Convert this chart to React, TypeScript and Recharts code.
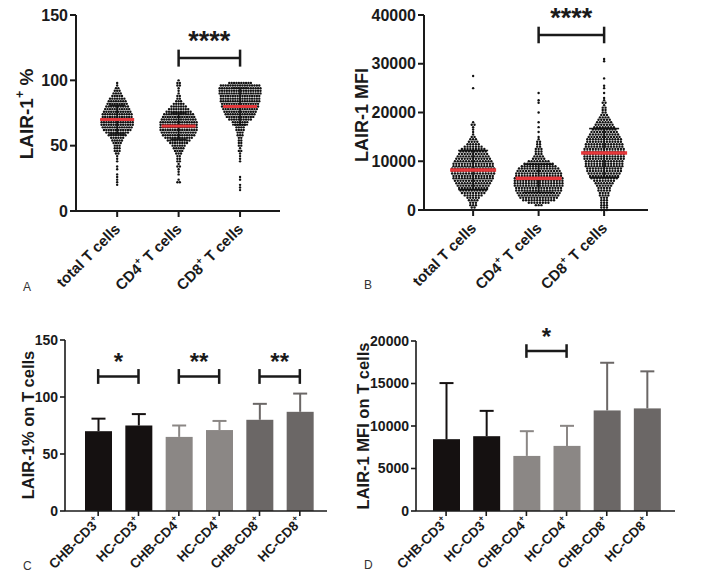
import React from 'react';
import {
  ScatterChart,
  Scatter,
  BarChart,
  Bar,
  XAxis,
  YAxis,
  ErrorBar,
  ReferenceLine,
} from 'recharts';

const FONT = '"Liberation Sans", Arial, sans-serif';
const INK = '#1a1a1a';

// ---- panel A / B: per-cell scatter, read as counts per value bin ----
const cellGroups = ['total T cells', 'CD4⁺ T cells', 'CD8⁺ T cells'];

const pctBins = [
  16, 18, 20, 22, 24, 26, 28, 30, 32, 34, 36, 38, 40, 42, 44, 46, 48, 50, 52, 54, 56, 58,
  60, 62, 64, 66, 68, 70, 72, 74, 76, 78, 80, 82, 84, 86, 88, 90, 92, 94, 96, 98, 100,
];
const pctTotalCounts = [
  0, 0, 1, 1, 1, 1, 1, 0, 1, 1, 0, 1, 1, 1, 2, 3, 3, 3, 4, 5, 6, 8,
  10, 12, 13, 14, 14, 14, 13, 13, 12, 11, 10, 9, 8, 7, 5, 4, 3, 2, 1, 1, 0,
];
const pctCd4Counts = [
  0, 0, 0, 2, 1, 0, 1, 1, 1, 2, 1, 2, 2, 2, 3, 4, 5, 6, 8, 10, 12, 14,
  15, 16, 16, 16, 16, 15, 14, 13, 11, 9, 7, 5, 3, 2, 2, 1, 1, 1, 2, 2, 1,
];
const pctCd8Counts = [
  1, 1, 1, 0, 1, 1, 0, 0, 0, 0, 0, 1, 1, 1, 1, 2, 1, 2, 2, 2, 2, 3,
  3, 4, 4, 5, 7, 10, 12, 13, 14, 15, 16, 16, 17, 17, 17, 18, 18, 18, 17, 10, 0,
];
const pctMeans = [70, 65, 80];
const pctSd = [11, 10, 14];

const mfiBins = [
  0, 500, 1000, 1500, 2000, 2500, 3000, 3500, 4000, 4500,
  5000, 5500, 6000, 6500, 7000, 7500, 8000, 8500, 9000, 9500,
  10000, 10500, 11000, 11500, 12000, 12500, 13000, 13500, 14000, 14500,
  15000, 15500, 16000, 16500, 17000, 17500, 18000, 18500, 19000, 19500,
  20000, 20500, 21000, 21500, 22000, 22500, 23000, 23500, 24000, 24500,
  25000, 25500, 26000, 26500, 27000, 27500, 28000, 28500, 29000, 29500,
  30000, 30500, 31000,
];
const mfiTotalCounts = [
  0, 2, 3, 3, 4, 5, 7, 9, 10, 11,
  12, 13, 14, 15, 15, 16, 16, 16, 15, 15,
  14, 13, 12, 11, 10, 9, 7, 5, 4, 3,
  2, 1, 1, 1, 1, 2, 1, 0, 0, 0,
  0, 0, 0, 0, 0, 0, 0, 0, 0, 0,
  1, 0, 0, 0, 0, 1, 0, 0, 0, 0,
  0, 0, 0,
];
const mfiCd4Counts = [
  0, 0, 3, 8, 12, 14, 15, 16, 17, 17,
  18, 18, 18, 18, 17, 17, 16, 15, 13, 11,
  8, 5, 4, 3, 3, 3, 2, 2, 2, 1,
  1, 0, 1, 0, 1, 0, 1, 0, 0, 0,
  1, 0, 0, 0, 1, 1, 0, 0, 1, 0,
  0, 0, 0, 0, 0, 0, 0, 0, 0, 0,
  0, 0, 0,
];
const mfiCd8Counts = [
  3, 3, 3, 3, 3, 3, 4, 4, 5, 5,
  6, 7, 8, 10, 11, 12, 13, 13, 14, 14,
  14, 15, 15, 15, 15, 15, 14, 14, 13, 13,
  12, 11, 10, 9, 8, 7, 6, 5, 4, 3,
  2, 2, 2, 1, 2, 1, 1, 0, 1, 0,
  1, 1, 0, 0, 1, 0, 0, 0, 0, 0,
  0, 1, 1,
];
const mfiMeans = [8200, 6500, 11700];
const mfiSd = [4000, 2900, 5000];

// ---- panel C / D: group bars ----
const barLabels = ['CHB-CD3⁺', 'HC-CD3⁺', 'CHB-CD4⁺', 'HC-CD4⁺', 'CHB-CD8⁺', 'HC-CD8⁺'];
const pctBarMeans = [70, 75, 65, 71, 80, 87];
const pctBarSd = [11, 10, 10, 8, 14, 16];
const mfiBarMeans = [8450, 8800, 6480, 7660, 11830, 12070];
const mfiBarSd = [6600, 2980, 2910, 2360, 5610, 4360];
const barColors = ['#151111', '#151111', '#8b8785', '#8b8785', '#6b6766', '#6b6766'];

// significance brackets
const pctScatterBrackets = [{ from: 2, to: 3, y: 117, label: '****' }];
const mfiScatterBrackets = [{ from: 2, to: 3, y: 35900, label: '****' }];
const pctBarBrackets = [
  { from: 'CHB-CD3⁺', to: 'HC-CD3⁺', y: 118, label: '*' },
  { from: 'CHB-CD4⁺', to: 'HC-CD4⁺', y: 118, label: '**' },
  { from: 'CHB-CD8⁺', to: 'HC-CD8⁺', y: 118, label: '**' },
];
const mfiBarBrackets = [{ from: 'CHB-CD4⁺', to: 'HC-CD4⁺', y: 18820, label: '*' }];

function swarm(bins: number[], counts: number[], group: number) {
  const pts: { x: number; y: number; off: number }[] = [];
  bins.forEach((b, i) => {
    const n = counts[i];
    for (let k = 0; k < n; k++) pts.push({ x: group, y: b, off: k - (n - 1) / 2 });
  });
  return pts;
}

const stats = (means: number[], sds: number[]) =>
  means.map((m, i) => ({ x: i + 1, y: m, sd: sds[i] }));

const supText = (s: string, size: number) => {
  const parts = s.split('⁺');
  if (parts.length === 1) return s;
  const lift = size * 0.45;
  return [
    <tspan key="a">{parts[0]}</tspan>,
    <tspan key="b" dy={-lift} fontSize={size * 0.65}>+</tspan>,
    <tspan key="c" dy={lift}>{parts[1]}</tspan>,
  ];
};

const rotatedTick = (fontSize: number, dx: number, dy: number) => (props: any) => {
  const { x, y, payload } = props;
  const v = payload.value;
  const label = typeof v === 'number' ? cellGroups[v - 1] : v;
  const ax = x + dx;
  const ay = y + dy;
  return (
    <text
      x={ax}
      y={ay}
      transform={`rotate(-45 ${ax} ${ay})`}
      textAnchor="end"
      fontSize={fontSize}
      fontWeight="bold"
      fontFamily={FONT}
      fill={INK}
    >
      {supText(label, fontSize)}
    </text>
  );
};

const dot = (spacing: number) => (props: any) => {
  const off = props.payload?.off ?? 0;
  return <circle cx={props.cx + off * spacing} cy={props.cy} r={1.2} fill="#111" />;
};

const meanLine = (w: number, h: number) => (props: any) => (
  <rect x={props.cx - w / 2} y={props.cy - h / 2} width={w} height={h} fill="#e5383b" />
);

const hidden = () => <g />;

const barShape = (capHalf: number) => (props: any) => {
  const { x, y, width, height, index, payload } = props;
  const color = barColors[index];
  const perUnit = height / payload.value;
  const top = y - payload.sd * perUnit;
  const cx = x + width / 2;
  return (
    <g>
      <rect x={x} y={y} width={width} height={height} fill={color} />
      <line x1={cx} y1={y} x2={cx} y2={top} stroke={color} strokeWidth={2} />
      <line x1={cx - capHalf} y1={top} x2={cx + capHalf} y2={top} stroke={color} strokeWidth={2} />
    </g>
  );
};

function bracket(b: any, key: string, half: number, fontSize: number, sw: number, lift: number) {
  return [
    <ReferenceLine
      key={key + 'h'}
      segment={[{ x: b.from, y: b.y }, { x: b.to, y: b.y }]}
      stroke={INK}
      strokeWidth={sw}
      label={{ value: b.label, position: 'top', offset: lift, fontSize, fontWeight: 'bold', fill: INK, fontFamily: FONT }}
    />,
    <ReferenceLine
      key={key + 'l'}
      segment={[{ x: b.from, y: b.y + half }, { x: b.from, y: b.y - half }]}
      stroke={INK}
      strokeWidth={sw}
    />,
    <ReferenceLine
      key={key + 'r'}
      segment={[{ x: b.to, y: b.y + half }, { x: b.to, y: b.y - half }]}
      stroke={INK}
      strokeWidth={sw}
    />,
  ];
}

const pctPts = [
  swarm(pctBins, pctTotalCounts, 1),
  swarm(pctBins, pctCd4Counts, 2),
  swarm(pctBins, pctCd8Counts, 3),
];
const mfiPts = [
  swarm(mfiBins, mfiTotalCounts, 1),
  swarm(mfiBins, mfiCd4Counts, 2),
  swarm(mfiBins, mfiCd8Counts, 3),
];
const pctBarRows = barLabels.map((name, i) => ({ name, value: pctBarMeans[i], sd: pctBarSd[i] }));
const mfiBarRows = barLabels.map((name, i) => ({ name, value: mfiBarMeans[i], sd: mfiBarSd[i] }));

const yTick = (size: number) => ({ fontSize: size, fontWeight: 'bold', fill: INK, fontFamily: FONT });

const Title = ({ x, y, size, text }: { x: number; y: number; size: number; text: string }) => (
  <text
    x={x}
    y={y}
    transform={`rotate(-90 ${x} ${y})`}
    textAnchor="middle"
    fontSize={size}
    fontWeight="bold"
    fontFamily={FONT}
    fill={INK}
  >
    {supText(text, size)}
  </text>
);

const App: React.FC = () => {
  const axis2 = { stroke: INK, strokeWidth: 2 };
  const axis15 = { stroke: INK, strokeWidth: 1.6 };
  return (
    <div style={{ position: 'absolute', left: 0, top: 0, width: 701, height: 576, background: '#fff', fontFamily: FONT }}>
      {/* A */}
      <div style={{ position: 'absolute', left: 0, top: 0 }}>
        <ScatterChart width={350} height={300} margin={{ top: 15, right: 70, bottom: 0, left: 0 }}>
          <XAxis
            type="number"
            dataKey="x"
            domain={[0.33, 3.65]}
            ticks={[1, 2, 3]}
            interval={0}
            height={89}
            tickSize={6}
            axisLine={axis2}
            tickLine={axis2}
            tick={rotatedTick(15, 4, 11)}
          />
          <YAxis
            type="number"
            dataKey="y"
            domain={[0, 150]}
            ticks={[0, 50, 100, 150]}
            width={76}
            tickSize={6}
            axisLine={axis2}
            tickLine={axis2}
            tick={yTick(16)}
          />
          {pctPts.map((pts, i) => (
            <Scatter key={'p' + i} data={pts} shape={dot(2.4)} isAnimationActive={false} />
          ))}
          <Scatter data={stats(pctMeans, pctSd)} shape={hidden} isAnimationActive={false}>
            <ErrorBar dataKey="sd" direction="y" width={8} stroke={INK} strokeWidth={1.6} />
          </Scatter>
          <Scatter data={stats(pctMeans, pctSd)} shape={meanLine(34, 3)} isAnimationActive={false} />
          {pctScatterBrackets.map((b, i) => bracket(b, 'a' + i, 6.5, 27, 2.5, 8))}
        </ScatterChart>
      </div>

      {/* B */}
      <div style={{ position: 'absolute', left: 350, top: 0 }}>
        <ScatterChart width={351} height={300} margin={{ top: 15, right: 53, bottom: 0, left: 0 }}>
          <XAxis
            type="number"
            dataKey="x"
            domain={[0.25, 3.67]}
            ticks={[1, 2, 3]}
            interval={0}
            height={90}
            tickSize={6}
            axisLine={axis2}
            tickLine={axis2}
            tick={rotatedTick(15, 4, 11)}
          />
          <YAxis
            type="number"
            dataKey="y"
            domain={[0, 40000]}
            ticks={[0, 10000, 20000, 30000, 40000]}
            width={74}
            tickSize={6}
            axisLine={axis2}
            tickLine={axis2}
            tick={yTick(16)}
          />
          {mfiPts.map((pts, i) => (
            <Scatter key={'m' + i} data={pts} shape={dot(2.8)} isAnimationActive={false} />
          ))}
          <Scatter data={stats(mfiMeans, mfiSd)} shape={hidden} isAnimationActive={false}>
            <ErrorBar dataKey="sd" direction="y" width={15} stroke={INK} strokeWidth={1.6} />
          </Scatter>
          <Scatter data={stats(mfiMeans, mfiSd)} shape={meanLine(46, 3.5)} isAnimationActive={false} />
          {mfiScatterBrackets.map((b, i) => bracket(b, 'b' + i, 1700, 27, 2.5, 8))}
        </ScatterChart>
      </div>

      {/* C */}
      <div style={{ position: 'absolute', left: 0, top: 300 }}>
        <BarChart width={350} height={276} data={pctBarRows} margin={{ top: 40, right: 23, bottom: 0, left: 0 }} barSize={27}>
          <XAxis
            dataKey="name"
            height={65}
            padding={{ left: 13, right: 7 }}
            interval={0}
            tickSize={5}
            axisLine={axis15}
            tickLine={axis15}
            tick={rotatedTick(13.5, 3, 5)}
          />
          <YAxis
            domain={[0, 150]}
            ticks={[0, 50, 100, 150]}
            width={65}
            tickSize={5}
            axisLine={axis15}
            tickLine={axis15}
            tick={yTick(14)}
          />
          <Bar dataKey="value" shape={barShape(7)} isAnimationActive={false} />
          {pctBarBrackets.map((b, i) => bracket(b, 'c' + i, 6.5, 24, 2.5, 6))}
        </BarChart>
      </div>

      {/* D */}
      <div style={{ position: 'absolute', left: 350, top: 300 }}>
        <BarChart width={351} height={276} data={mfiBarRows} margin={{ top: 41, right: 26, bottom: 0, left: 0 }} barSize={27}>
          <XAxis
            dataKey="name"
            height={65}
            padding={{ left: 10, right: 8 }}
            interval={0}
            tickSize={5}
            axisLine={axis15}
            tickLine={axis15}
            tick={rotatedTick(13.5, 3, 5)}
          />
          <YAxis
            domain={[0, 20000]}
            ticks={[0, 5000, 10000, 15000, 20000]}
            width={66}
            tickSize={5}
            axisLine={axis15}
            tickLine={axis15}
            tick={yTick(14)}
          />
          <Bar dataKey="value" shape={barShape(7)} isAnimationActive={false} />
          {mfiBarBrackets.map((b, i) => bracket(b, 'd' + i, 800, 24, 2.5, 6))}
        </BarChart>
      </div>

      {/* axis titles and panel letters */}
      <svg width={701} height={576} style={{ position: 'absolute', left: 0, top: 0, pointerEvents: 'none' }}>
        <Title x={33} y={114} size={19} text="LAIR-1⁺ %" />
        <Title x={368} y={115} size={18} text="LAIR-1 MFI" />
        <Title x={34} y={425} size={16.5} text="LAIR-1% on T cells" />
        <Title x={369} y={426} size={16.5} text="LAIR-1 MFI on T cells" />
        <text x={23} y={291} fontSize={12} fontFamily={FONT} fill="#333">A</text>
        <text x={364} y={289} fontSize={12} fontFamily={FONT} fill="#333">B</text>
        <text x={23} y={570} fontSize={12} fontFamily={FONT} fill="#333">C</text>
        <text x={364} y={569} fontSize={12} fontFamily={FONT} fill="#333">D</text>
      </svg>
    </div>
  );
};

export default App;
